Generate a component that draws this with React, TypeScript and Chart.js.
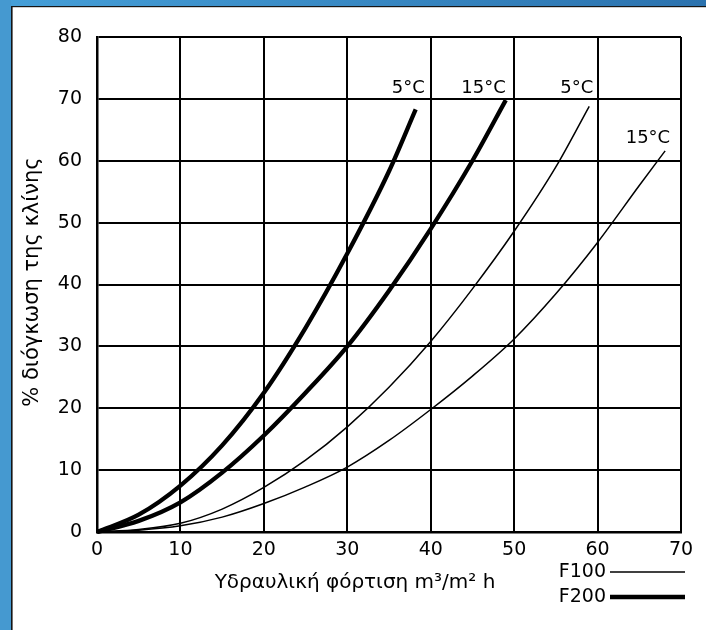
import React, { useEffect, useRef } from "react";
import { Chart, registerables } from "chart.js";

Chart.register(...registerables);

// ---- data ----
const X_TICKS = [0, 10, 20, 30, 40, 50, 60, 70];
const Y_TICKS = [0, 10, 20, 30, 40, 50, 60, 70, 80];

const F200_5C_X = [0, 5, 10, 15, 20, 25, 30, 35, 38.2];
const F200_5C_Y = [0, 2.8, 7.5, 14, 22.5, 33, 45, 58.3, 68.3];

const F200_15C_X = [0, 5, 10, 15, 20, 25, 30, 35, 40, 45, 49];
const F200_15C_Y = [0, 1.8, 4.8, 9.6, 15.6, 22.5, 30, 39, 49, 60, 69.8];

const F100_5C_X = [0, 5, 10, 15, 20, 25, 30, 35, 40, 45, 50, 55, 59];
const F100_5C_Y = [0, 0.4, 1.4, 3.7, 7.2, 11.6, 17, 23.4, 30.8, 39.3, 48.6, 59, 68.8];

const F100_15C_X = [0, 5, 10, 15, 20, 25, 30, 35, 40, 45, 50, 55, 60, 65, 68.1];
const F100_15C_Y = [0, 0.3, 1.0, 2.4, 4.6, 7.3, 10.5, 14.8, 19.8, 25.2, 31.2, 38.5, 46.8, 56, 61.6];

const CURVE_LABELS = ["5°C", "15°C", "5°C", "15°C"];
const LEGEND_LABELS = ["F100", "F200"];
const X_TITLE = "Υδραυλική φόρτιση m³/m² h";
const Y_TITLE = "% διόγκωση της κλίνης";

// ---- styles ----
const FONT = "'DejaVu Sans', sans-serif";
const THICK = 4.3;
const THIN = 1.5;
const LABEL_OFFSETS = [
  [9, -12],
  [0, -3],
  [4, -9],
  [5, -4],
];

const toPoints = (xs: number[], ys: number[]) => xs.map((x, i) => ({ x, y: ys[i] }));

const decorPlugin = {
  id: "decor",
  beforeDraw(chart: any) {
    const { ctx, width, height } = chart;
    ctx.save();
    ctx.fillStyle = "#ffffff";
    ctx.fillRect(0, 0, width, height);
    const g = ctx.createLinearGradient(0, 0, width, 0);
    g.addColorStop(0, "#459fd8");
    g.addColorStop(1, "#2b72ae");
    ctx.fillStyle = g;
    ctx.fillRect(0, 0, width, 6);
    ctx.fillStyle = "#4599d0";
    ctx.fillRect(0, 0, 11, height);
    ctx.fillStyle = "#151515";
    ctx.fillRect(11, 6, width - 11, 1.2);
    ctx.fillRect(11, 6, 1.6, height - 6);
    ctx.restore();
  },
  afterDraw(chart: any) {
    const { ctx } = chart;
    ctx.save();
    ctx.fillStyle = "#000";
    // curve end labels
    ctx.font = `18px ${FONT}`;
    ctx.textAlign = "right";
    ctx.textBaseline = "bottom";
    chart.data.datasets.forEach((ds: any, i: number) => {
      const meta = chart.getDatasetMeta(i);
      const last = meta.data[meta.data.length - 1];
      const [dx, dy] = LABEL_OFFSETS[i];
      ctx.fillText(CURVE_LABELS[i], last.x + dx, last.y + dy);
    });
    // x title
    ctx.font = `20px ${FONT}`;
    ctx.textAlign = "center";
    ctx.textBaseline = "middle";
    ctx.fillText(X_TITLE, 355, 583);
    // y title
    ctx.save();
    ctx.font = `21px ${FONT}`;
    ctx.translate(33, 282);
    ctx.rotate(-Math.PI / 2);
    ctx.fillText(Y_TITLE, 0, 0);
    ctx.restore();
    // legend
    ctx.textAlign = "right";
    ctx.font = `19px ${FONT}`;
    const rows = [572, 597];
    const widths = [THIN, THICK];
    LEGEND_LABELS.forEach((lab, i) => {
      ctx.fillText(lab, 606, rows[i]);
      ctx.beginPath();
      ctx.lineWidth = widths[i];
      ctx.strokeStyle = "#000";
      ctx.moveTo(610, rows[i]);
      ctx.lineTo(685, rows[i]);
      ctx.stroke();
    });
    ctx.restore();
  },
};

export default function App() {
  const ref = useRef<HTMLCanvasElement | null>(null);
  useEffect(() => {
    if (!ref.current) return;
    const ds = (xs: number[], ys: number[], w: number) => ({
      data: toPoints(xs, ys),
      borderColor: "#000",
      backgroundColor: "#000",
      borderWidth: w,
      pointRadius: 0,
      cubicInterpolationMode: "monotone" as const,
      fill: false,
      clip: false as any,
    });
    const chart = new Chart(ref.current, {
      type: "line",
      data: {
        datasets: [
          ds(F200_5C_X, F200_5C_Y, THICK),
          ds(F200_15C_X, F200_15C_Y, THICK),
          ds(F100_5C_X, F100_5C_Y, THIN),
          ds(F100_15C_X, F100_15C_Y, THIN),
        ],
      },
      options: {
        animation: false,
        responsive: false,
        layout: { padding: { left: 0, top: 37, right: 25, bottom: 0 } },
        plugins: { legend: { display: false }, tooltip: { enabled: false } },
        scales: {
          x: {
            type: "linear",
            min: X_TICKS[0],
            max: X_TICKS[X_TICKS.length - 1],
            afterBuildTicks: (s: any) => {
              s.ticks = X_TICKS.map((v) => ({ value: v }));
            },
            afterFit: (s: any) => {
              s.height = 98;
            },
            grid: { color: "#000", lineWidth: 2, drawTicks: false },
            border: { color: "#000", width: 2.5 },
            ticks: { color: "#000", font: { family: FONT, size: 19 }, padding: 7, maxRotation: 0 },
          },
          y: {
            type: "linear",
            min: Y_TICKS[0],
            max: Y_TICKS[Y_TICKS.length - 1],
            afterBuildTicks: (s: any) => {
              s.ticks = Y_TICKS.map((v) => ({ value: v }));
            },
            afterFit: (s: any) => {
              s.width = 97;
            },
            grid: { color: "#000", lineWidth: 2, drawTicks: false },
            border: { color: "#000", width: 2.5 },
            ticks: { color: "#000", font: { family: FONT, size: 19 }, padding: 15 },
          },
        },
      },
      plugins: [decorPlugin],
    });
    return () => chart.destroy();
  }, []);
  return (
    <div style={{ position: "fixed", left: 0, top: 0, width: 706, height: 630 }}>
      <canvas ref={ref} width={706} height={630} style={{ width: 706, height: 630, display: "block" }} />
    </div>
  );
}
